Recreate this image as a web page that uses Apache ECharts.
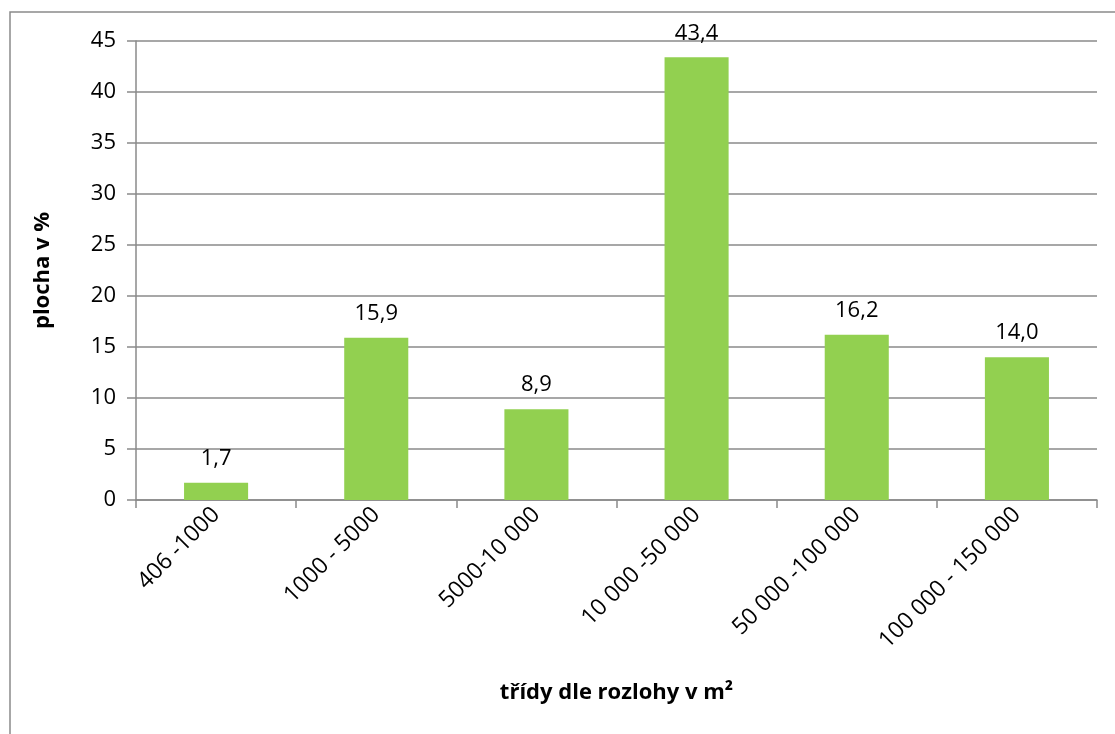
<!DOCTYPE html>
<html>
<head>
<meta charset="utf-8">
<script src="https://cdn.jsdelivr.net/npm/echarts@6/dist/echarts.min.js"></script>
<style>
  html, body { margin: 0; padding: 0; background: #fff; }
  #chart { width: 1115px; height: 734px; }
</style>
</head>
<body>
<div id="chart"></div>
<script>
// Size classes of plots (m²) and their share of total area (%)
const categories = ['406 -1000', '1000 - 5000', '5000-10 000', '10 000 -50 000', '50 000 -100 000', '100 000 - 150 000'];
const areaShare = [1.7, 15.9, 8.9, 43.4, 16.2, 14.0];
const yTicks = { min: 0, max: 45, interval: 5 };

const font = 'Open Sans, Noto Sans, sans-serif';
const gray = '#8a8a8a';

const chart = echarts.init(document.getElementById('chart'), null, { renderer: 'canvas' });
chart.setOption({
  animation: false,
  backgroundColor: '#fff',
  graphic: [{
    type: 'rect',
    shape: { x: 10, y: 12, width: 1200, height: 900 },
    style: { fill: 'none', stroke: gray, lineWidth: 1.5 },
    silent: true,
    z: -1
  }],
  grid: { left: 136, right: 18, top: 41, bottom: 234, containLabel: false },
  xAxis: {
    type: 'category',
    data: categories,
    name: 'třídy dle rozlohy v m²',
    nameLocation: 'middle',
    nameGap: 182,
    nameTextStyle: { fontFamily: font, fontSize: 22, fontWeight: 'bold', color: '#000' },
    axisLine: { lineStyle: { color: gray, width: 1.5 } },
    axisTick: { show: true, length: 8, alignWithLabel: false, lineStyle: { color: gray, width: 1.5 } },
    axisLabel: { rotate: 45, fontFamily: font, fontSize: 23, color: '#000', margin: 11, interval: 0 }
  },
  yAxis: {
    type: 'value',
    min: yTicks.min,
    max: yTicks.max,
    interval: yTicks.interval,
    name: 'plocha v %',
    nameLocation: 'middle',
    nameGap: 82,
    nameRotate: 90,
    nameTextStyle: { fontFamily: font, fontSize: 22, fontWeight: 'bold', color: '#000' },
    axisLine: { show: true, lineStyle: { color: gray, width: 1.5 } },
    axisTick: { show: true, length: 9, lineStyle: { color: gray, width: 1.5 } },
    axisLabel: { fontFamily: font, fontSize: 22, color: '#000', margin: 20 },
    splitLine: { show: true, lineStyle: { color: gray, width: 1.5 } }
  },
  series: [{
    type: 'bar',
    data: areaShare,
    barWidth: '40%',
    itemStyle: { color: '#92D050' },
    label: {
      show: true,
      position: 'top',
      distance: 13,
      fontFamily: font,
      fontSize: 22,
      color: '#000',
      formatter: p => p.value.toFixed(1).replace('.', ',')
    }
  }]
});
</script>
</body>
</html>
